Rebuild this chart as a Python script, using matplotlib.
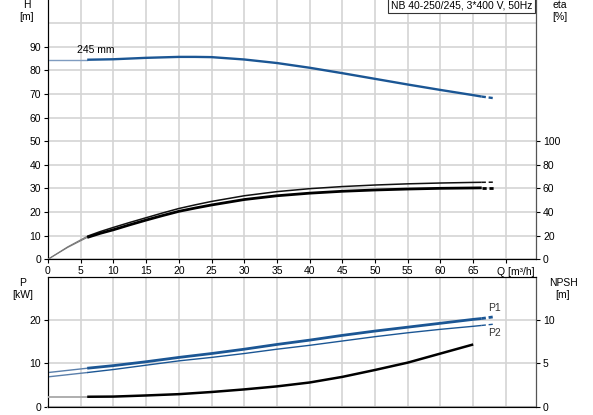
import matplotlib
matplotlib.use('Agg')
import matplotlib.pyplot as plt
import numpy as np

plt.rcParams['font.family'] = ['Liberation Sans', 'DejaVu Sans']
plt.rcParams['font.size'] = 7.5
plt.rcParams['lines.scale_dashes'] = False

# data
q = [0, 3, 6, 8, 10, 12.5, 15, 17.5, 20, 22.5, 25, 30, 35, 40, 45, 50, 55, 60, 65, 66.3, 68.2]
head = [84.5, 84.5, 84.5, 84.6, 84.7, 85.0, 85.3, 85.5, 85.7, 85.7, 85.6, 84.6, 83.1, 81.1, 78.8,
        76.4, 74.0, 71.7, 69.5, 68.9, 68.2]
eta_a = [0, 10.5, 19.5, 23.5, 27, 31.2, 35.2, 39.2, 43, 46.1, 49, 53.8, 57.3, 59.8, 61.6,
         62.9, 63.9, 64.6, 65.1, 65.2, 65.3]
eta_b = [0, 10, 18.5, 22, 25, 29.2, 33.2, 37.0, 40.6, 43.4, 46, 50.6, 53.8, 56, 57.6,
         58.7, 59.5, 60.1, 60.4, 60.5, 60.5]
p1 = [7.9, 8.4, 8.9, 9.2, 9.5, 9.95, 10.4, 10.9, 11.4, 11.85, 12.3, 13.3, 14.4, 15.4, 16.5,
      17.5, 18.4, 19.3, 20.2, 20.4, 20.8]
p2 = [6.9, 7.4, 7.9, 8.25, 8.6, 9.1, 9.6, 10.1, 10.6, 11.0, 11.4, 12.3, 13.3, 14.2, 15.2,
      16.2, 17.1, 17.9, 18.6, 18.8, 19.1]
q_npsh = [0, 3, 6, 10, 15, 20, 25, 30, 35, 40, 45, 50, 55, 60, 65]
npsh = [1.15, 1.15, 1.15, 1.17, 1.3, 1.45, 1.7, 2.0, 2.35, 2.8, 3.45, 4.25, 5.1, 6.15, 7.2]
x_ticks = [0, 5, 10, 15, 20, 25, 30, 35, 40, 45, 50, 55, 60, 65]

BLUE = '#1b5694'
GRID = '#d4d4d4'


def draw(ax, x, y, color, lw, thin_color, thin_lw=1.0, dashed_end=True):
    x = np.array(x); y = np.array(y)
    g = x <= 6
    s = (x >= 6) & (x <= 66.3)
    d = x >= 66.3
    ax.plot(x[g], y[g], color=thin_color, lw=thin_lw, zorder=3)
    ax.plot(x[s], y[s], color=color, lw=lw, zorder=4, solid_capstyle='butt')
    if dashed_end and d.sum() > 1:
        ax.plot(x[d], y[d], color=color, lw=lw, ls=(0, (3, 2)), zorder=4,
                dash_capstyle='butt')


fig = plt.figure(figsize=(5.93, 4.15), dpi=100)
ax = fig.add_axes([0.0809, 0.3752, 0.823, 0.626])
ax2 = ax.twinx()
bx = fig.add_axes([0.0809, 0.02, 0.823, 0.3125])
bx2 = bx.twinx()

for a in (ax, bx):
    a.set_xlim(0, 74.6)
    a.set_xticks(np.arange(0, 75, 5))
    a.grid(True, color=GRID, lw=1.2, zorder=0)
    a.set_axisbelow(True)
    a.tick_params(length=3, width=0.8, pad=2, labelsize=7.5)
    for sp in a.spines.values():
        sp.set_color('#222222')

ax.set_ylim(0, 110)
ax.set_yticks(np.arange(0, 100, 10))
ax.axhline(100, color=GRID, lw=1.2, zorder=0)
ax.set_xticklabels([str(v) for v in x_ticks] + [''])
ax2.set_ylim(0, 220)
ax2.set_yticks(np.arange(0, 101, 20))
ax2.tick_params(length=3, width=0.8, pad=2, labelsize=7.5)
ax2.spines['right'].set_color('#555555')
ax2.spines['top'].set_visible(False)
ax.spines['top'].set_visible(False)

draw(ax, q, head, BLUE, 1.7, '#7f9cc0')
draw(ax2, q, eta_a, '#111111', 1.1, '#777777', 0.8)
draw(ax2, q, eta_b, '#000000', 2.0, '#777777', 0.8)
ax.text(4.5, 86.5, '245 mm', fontsize=7.5, va='bottom')
ax.text(68.6, -5.2, 'Q [m\u00b3/h]', fontsize=7.5, va='center', ha='left', clip_on=False)
ax.text(0.992, 0.995, 'NB 40-250/245, 3*400 V, 50Hz', transform=ax.transAxes,
        fontsize=7.5, ha='right', va='top',
        bbox=dict(boxstyle='square,pad=0.25', fc='white', ec='#333333', lw=0.8))

bx.set_ylim(0, 30)
bx.set_yticks([0, 10, 20])
bx.set_xticklabels([])
bx.tick_params(axis='x', length=0)
bx2.set_ylim(0, 15)
bx2.set_yticks([0, 5, 10])
bx2.tick_params(length=3, width=0.8, pad=2, labelsize=7.5)
bx2.spines['right'].set_color('#555555')
bx.spines['bottom'].set_color('#aaaaaa')
bx.spines['bottom'].set_linewidth(1.5)

draw(bx, q, p1, BLUE, 2.0, '#5a7fab', 1.0)
draw(bx, q, p2, BLUE, 1.0, '#5a7fab', 1.0)
draw(bx2, q_npsh, npsh, '#000000', 1.8, '#a8a8a8', 1.3, dashed_end=False)
bx.text(68.3, 21.6, 'P1', fontsize=7.5, ha='center', va='bottom', color='#333333')
bx.text(68.3, 18.1, 'P2', fontsize=7.5, ha='center', va='top', color='#333333')

fig.text(27 / 593, 1 - 5 / 415, 'H', fontsize=7.5, ha='center', va='center')
fig.text(27 / 593, 1 - 17 / 415, '[m]', fontsize=7.5, ha='center', va='center')
fig.text(560 / 593, 1 - 5 / 415, 'eta', fontsize=7.5, ha='center', va='center')
fig.text(560 / 593, 1 - 17 / 415, '[%]', fontsize=7.5, ha='center', va='center')
fig.text(23 / 593, 1 - 283 / 415, 'P', fontsize=7.5, ha='center', va='center')
fig.text(23 / 593, 1 - 295 / 415, '[kW]', fontsize=7.5, ha='center', va='center')
fig.text(563 / 593, 1 - 283 / 415, 'NPSH', fontsize=7.5, ha='center', va='center')
fig.text(563 / 593, 1 - 295 / 415, '[m]', fontsize=7.5, ha='center', va='center')

fig.savefig('out.png', dpi=100)
